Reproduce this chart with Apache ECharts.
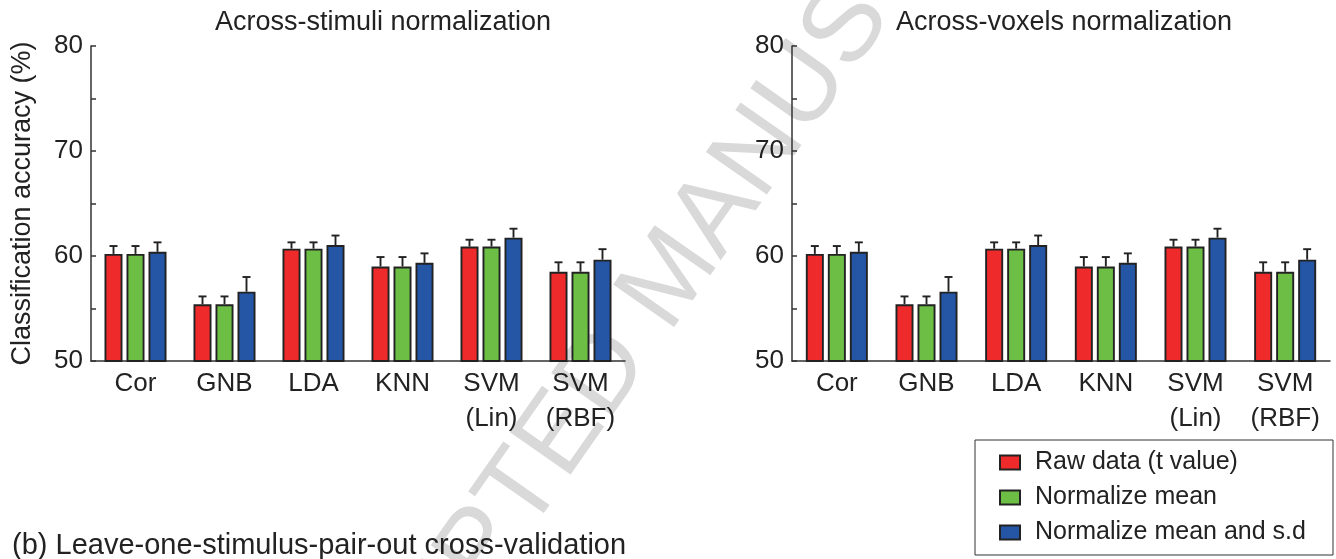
<!DOCTYPE html>
<html>
<head>
<meta charset="utf-8">
<script src="https://cdn.jsdelivr.net/npm/echarts@6/dist/echarts.min.js"></script>
<style>
  html, body { margin: 0; padding: 0; background: #fff; }
  #chart { width: 1336px; height: 559px; }
</style>
</head>
<body>
<div id="chart"></div>
<script>
// Classifier names along the x axis
const methods = ['Cor', 'GNB', 'LDA', 'KNN', 'SVM\n(Lin)', 'SVM\n(RBF)'];
const seriesNames = ['Raw data (t value)', 'Normalize mean', 'Normalize mean and s.d'];
const yTicks = [50, 60, 70, 80];

// Across-stimuli normalization: mean accuracy (%) and standard error
const stimRawMean    = [60.2, 55.4, 60.7, 59.0, 60.9, 58.5];
const stimRawErr     = [0.75, 0.75, 0.6, 0.9, 0.65, 0.9];
const stimMeanMean   = [60.2, 55.4, 60.7, 59.0, 60.9, 58.5];
const stimMeanErr    = [0.75, 0.75, 0.6, 0.9, 0.65, 0.9];
const stimMeanSdMean = [60.4, 56.6, 61.05, 59.35, 61.75, 59.65];
const stimMeanSdErr  = [0.9, 1.4, 0.9, 0.9, 0.85, 1.0];

// Across-voxels normalization: mean accuracy (%) and standard error
const voxRawMean     = [60.2, 55.4, 60.7, 59.0, 60.9, 58.5];
const voxRawErr      = [0.75, 0.75, 0.6, 0.9, 0.65, 0.9];
const voxMeanMean    = [60.2, 55.4, 60.7, 59.0, 60.9, 58.5];
const voxMeanErr     = [0.75, 0.75, 0.6, 0.9, 0.65, 0.9];
const voxMeanSdMean  = [60.4, 56.6, 61.05, 59.35, 61.75, 59.65];
const voxMeanSdErr   = [0.9, 1.4, 0.9, 0.9, 0.85, 1.0];

const FONT = '"Liberation Sans", Arial, Helvetica, sans-serif';
const TEXT = '#222';
const colors = ['#ee2a2b', '#6dbe45', '#2456a5'];
const BAR_W = 18;
const BAR_GAP = 4;

const panels = [
  { means: [stimRawMean, stimMeanMean, stimMeanSdMean], errs: [stimRawErr, stimMeanErr, stimMeanSdErr] },
  { means: [voxRawMean, voxMeanMean, voxMeanSdMean], errs: [voxRawErr, voxMeanErr, voxMeanSdErr] }
];

function makeYAxis(gridIndex, withName) {
  return {
    type: 'value', gridIndex: gridIndex, min: 50, max: 80, interval: 5,
    name: withName ? 'Classification accuracy (%)' : '',
    nameLocation: 'middle', nameGap: 55,
    nameTextStyle: { fontFamily: FONT, fontSize: 27, color: TEXT },
    axisLine: { show: true, lineStyle: { color: '#333', width: 1.5 } },
    axisTick: { show: true, inside: true, length: 5, lineStyle: { color: '#333', width: 1.5 } },
    axisLabel: {
      fontFamily: FONT, fontSize: 26, color: TEXT, margin: 8,
      formatter: v => (yTicks.indexOf(v) >= 0 ? String(v) : '')
    },
    splitLine: { show: false }
  };
}

function makeXAxis(gridIndex) {
  return {
    type: 'category', gridIndex: gridIndex, data: methods,
    axisLine: { show: true, lineStyle: { color: '#333', width: 1.5 } },
    axisTick: { show: false },
    axisLabel: { fontFamily: FONT, fontSize: 26, color: TEXT, margin: 5, lineHeight: 35, interval: 0 }
  };
}

// Upward error bar with a short cap, placed over the matching bar in each group
function errorRenderer(k) {
  return function (params, api) {
    const c = api.value(0), v = api.value(1), e = api.value(2);
    const base = api.coord([c, v]);
    const top = api.coord([c, v + e]);
    const x = base[0] + (k - 1) * (BAR_W + BAR_GAP);
    const style = { stroke: '#222', lineWidth: 1.9 };
    return {
      type: 'group',
      children: [
        { type: 'line', shape: { x1: x, y1: base[1], x2: x, y2: top[1] }, style: style },
        { type: 'line', shape: { x1: x - 4, y1: top[1], x2: x + 4, y2: top[1] }, style: style }
      ]
    };
  };
}

const series = [];
panels.forEach((p, g) => {
  for (let k = 0; k < 3; k++) {
    series.push({
      type: 'bar', name: seriesNames[k], xAxisIndex: g, yAxisIndex: g,
      data: p.means[k], barWidth: BAR_W, barGap: (BAR_GAP / BAR_W * 100) + '%',
      itemStyle: { color: colors[k], borderColor: '#222', borderWidth: 1.9 },
      emphasis: { disabled: true }, z: 2
    });
  }
  for (let k = 0; k < 3; k++) {
    series.push({
      type: 'custom', xAxisIndex: g, yAxisIndex: g, z: 3,
      data: p.means[k].map((m, i) => [i, m, p.errs[k][i]]),
      renderItem: errorRenderer(k)
    });
  }
});

const chart = echarts.init(document.getElementById('chart'), null, { renderer: 'canvas' });
chart.setOption({
  animation: false,
  backgroundColor: '#fff',
  textStyle: { fontFamily: FONT },
  title: [
    { text: 'Across-stimuli normalization', left: 378, top: 4, textAlign: 'center',
      textStyle: { fontFamily: FONT, fontSize: 27, fontWeight: 'normal', color: TEXT } },
    { text: 'Across-voxels normalization', left: 1059, top: 4, textAlign: 'center',
      textStyle: { fontFamily: FONT, fontSize: 27, fontWeight: 'normal', color: TEXT } }
  ],
  grid: [
    { left: 91, top: 46, width: 534, height: 315 },
    { left: 792, top: 46, width: 538, height: 315 }
  ],
  xAxis: [makeXAxis(0), makeXAxis(1)],
  yAxis: [makeYAxis(0, true), makeYAxis(1, false)],
  legend: {
    data: seriesNames, orient: 'vertical', left: 975, top: 440,
    icon: 'rect', itemWidth: 20, itemHeight: 14, itemGap: 10,
    padding: [10, 8, 10, 24],
    borderColor: '#333', borderWidth: 1,
    textStyle: { fontFamily: FONT, fontSize: 25, color: TEXT, lineHeight: 25, padding: [0, 0, 0, 10], width: 290 },
    selectedMode: false
  },
  graphic: [
    { type: 'text', left: 12, top: 531, z: 10,
      style: { text: '(b) Leave-one-stimulus-pair-out cross-validation', font: '29px ' + FONT, fill: TEXT } },
    { type: 'text', x: 672, y: 278, rotation: 55 * Math.PI / 180, z: -10, silent: true,
      style: { text: 'ACCEPTED MANUSCRIPT', font: '108px ' + FONT, fill: '#d9d9d9',
               align: 'center', verticalAlign: 'middle' } }
  ],
  series: series
});
</script>
</body>
</html>
